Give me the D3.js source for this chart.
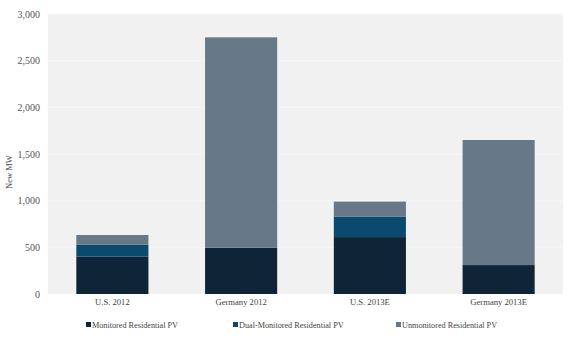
<!DOCTYPE html>
<html><head><meta charset="utf-8">
<script src="https://cdn.jsdelivr.net/npm/d3@7"></script>
<style>body{margin:0;background:#fff}svg{display:block}</style>
</head><body>
<svg id="c" width="580" height="344"></svg>
<script>
const categories = ["U.S. 2012", "Germany 2012", "U.S. 2013E", "Germany 2013E"];
const monitored = [400, 495, 610, 310];
const dualMonitored = [130, 0, 220, 0];
const unmonitored = [102, 2255, 160, 1340];
const seriesNames = ["Monitored Residential PV", "Dual-Monitored Residential PV", "Unmonitored Residential PV"];
const seriesColors = ["#0f2537", "#0b4a6f", "#677889"];
const yTicks = [0, 500, 1000, 1500, 2000, 2500, 3000];
const yTitle = "New MW";

const svg = d3.select("#c");
const font = "'Liberation Serif', serif";
const m = {l: 48, r: 17, t: 14, b: 50};
const W = 580, H = 344;
const x = d3.scaleBand().domain(categories).range([m.l, W - m.r]).paddingInner(0.44).paddingOuter(0.22);
const y = d3.scaleLinear().domain([0, 3000]).range([H - m.b, m.t]);

svg.append("rect").attr("x", m.l).attr("y", y(3000)).attr("width", W - m.r - m.l).attr("height", y(0) - y(3000)).attr("fill", "#f1f1f1");

svg.append("g").selectAll("line").data(yTicks.slice(1)).join("line")
  .attr("x1", m.l).attr("x2", W - m.r).attr("y1", d => y(d)).attr("y2", d => y(d))
  .attr("stroke", "#f7f7f7").attr("stroke-width", 1);

const rows = categories.map((c, i) => ({cat: c, m: monitored[i], d: dualMonitored[i], u: unmonitored[i]}));
const stack = d3.stack().keys(["m", "d", "u"])(rows);
svg.append("g").selectAll("g").data(stack).join("g").attr("fill", (s, i) => seriesColors[i])
  .selectAll("rect").data(s => s).join("rect")
  .attr("x", d => x(d.data.cat)).attr("width", x.bandwidth())
  .attr("y", d => y(d[1])).attr("height", d => y(d[0]) - y(d[1]));

const ya = svg.append("g").attr("transform", `translate(${m.l},0)`)
  .call(d3.axisLeft(y).tickValues(yTicks).tickFormat(d3.format(",")).tickSize(0).tickPadding(8));
ya.select(".domain").remove();
ya.selectAll("text").attr("font-family", font).attr("font-size", 10).attr("fill", "#555");

const xa = svg.append("g").attr("transform", `translate(0,${y(0)})`)
  .call(d3.axisBottom(x).tickSize(0).tickPadding(5));
xa.select(".domain").remove();
xa.selectAll("text").attr("font-family", font).attr("font-size", 8.6).attr("fill", "#444");

svg.append("text").attr("transform", `translate(12,${(y(0)+y(3000))/2 + 18}) rotate(-90)`)
  .attr("text-anchor", "middle").attr("font-family", font).attr("font-size", 8.5).attr("fill", "#444").text(yTitle);

const legX = [86, 233, 396];
const lg = svg.append("g").selectAll("g").data(seriesNames).join("g")
  .attr("transform", (d, i) => `translate(${legX[i]},328)`);
lg.append("rect").attr("x", 0).attr("y", -6).attr("width", 5).attr("height", 5).attr("fill", (d, i) => seriesColors[i]);
lg.append("text").attr("x", 6).attr("y", 0).attr("font-family", font).attr("font-size", 8.2).attr("fill", "#444").text(d => d);
</script>
</body></html>
